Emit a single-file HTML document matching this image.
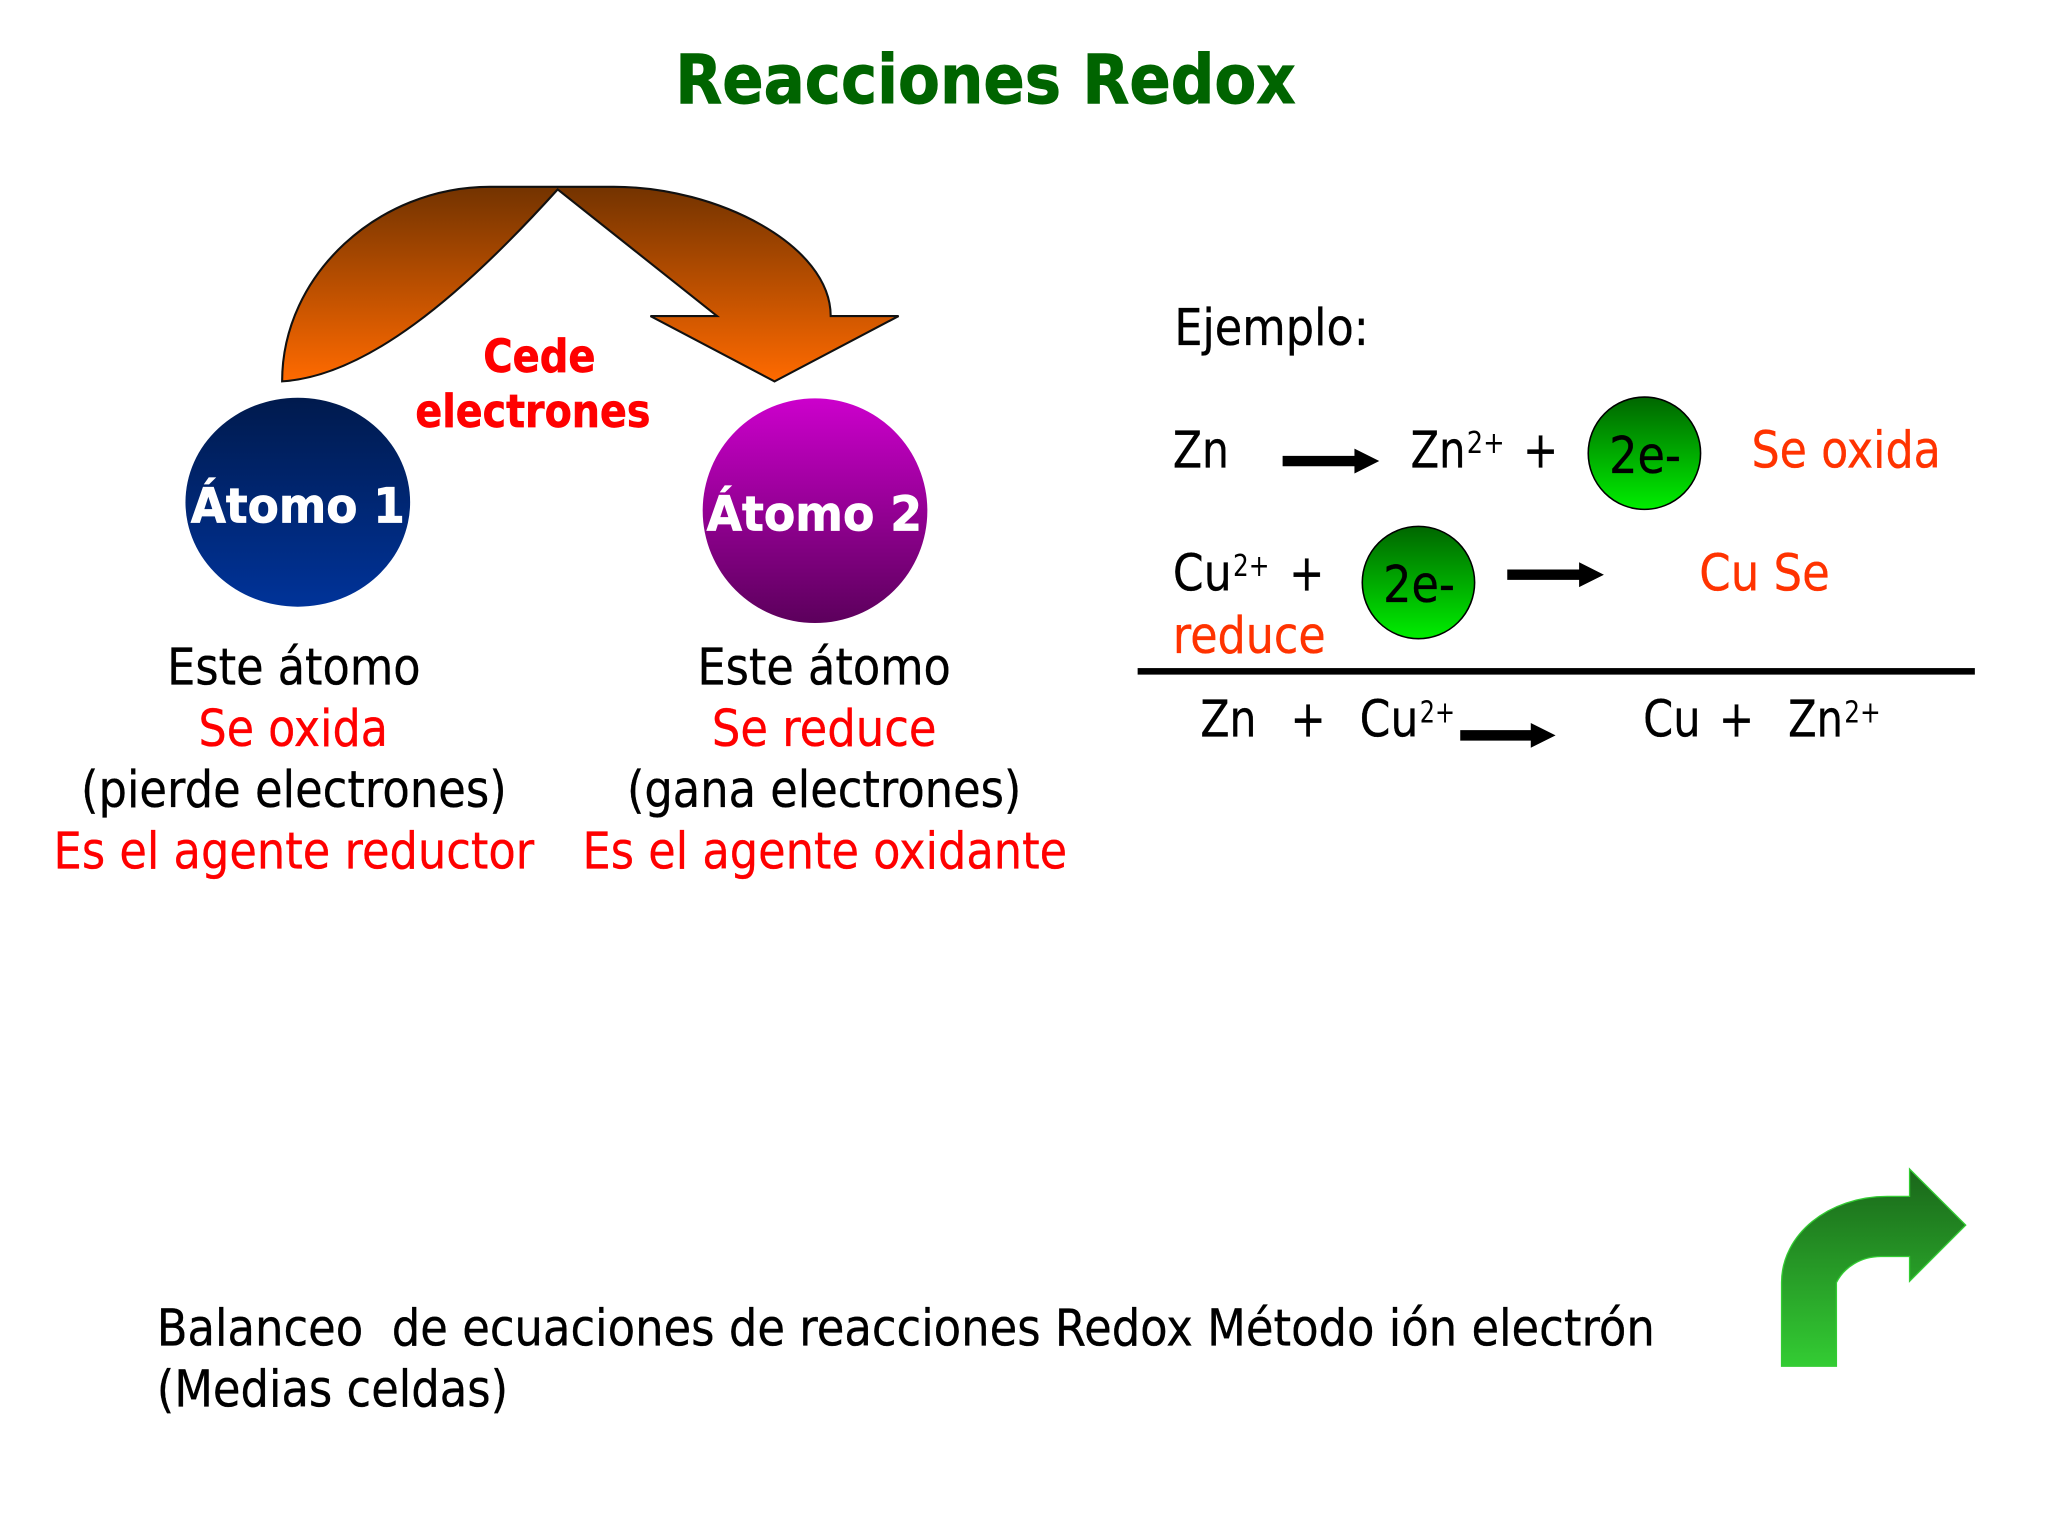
<!DOCTYPE html>
<html><head><meta charset="utf-8"><style>
html,body{margin:0;padding:0;background:#fff}
svg{display:block}
text{font-family:"DejaVu Sans","Liberation Sans",sans-serif}
.b{font-weight:bold}
.k{font-size:39px;fill:#000;stroke:#000;stroke-width:.25px}
.r{font-size:39px;fill:#f00;stroke:#f00;stroke-width:.25px}
.o{font-size:39px;fill:#f30;stroke:#f30;stroke-width:.25px}
.s{font-size:23px;fill:#000}
</style></head><body>
<svg width="2048" height="1536" viewBox="0 0 1568 1176" preserveAspectRatio="none" xmlns="http://www.w3.org/2000/svg">
<defs>
<linearGradient id="ga" x1="0" y1="0" x2="0" y2="1"><stop offset="0" stop-color="#733300"/><stop offset="1" stop-color="#ff6a00"/></linearGradient>
<linearGradient id="g1" x1="0" y1="0" x2="0" y2="1"><stop offset="0" stop-color="#001a4d"/><stop offset="1" stop-color="#003399"/></linearGradient>
<linearGradient id="g2" x1="0" y1="0" x2="0" y2="1"><stop offset="0" stop-color="#cc00cc"/><stop offset="1" stop-color="#5c005c"/></linearGradient>
<linearGradient id="g3" x1="0" y1="0" x2="0" y2="1"><stop offset="0" stop-color="#006600"/><stop offset="1" stop-color="#00ee00"/></linearGradient>
<linearGradient id="g4" x1="0" y1="0" x2="0" y2="1"><stop offset="0" stop-color="#1a661a"/><stop offset="1" stop-color="#33cc33"/></linearGradient>
</defs>
<rect width="1568" height="1176" fill="#fff"/>

<text class="b" x="517" y="79" font-size="52" fill="#006400" stroke="#006400" stroke-width="0.7" textLength="475" lengthAdjust="spacingAndGlyphs">Reacciones Redox</text>

<path d="M216 292 C216 210 290 143 375 143 L470 143 C550 143 636 188 636 242 L688 242 L593 292 L498 242 L549 242 L427 145 C352 228 280 288 216 292 Z" fill="url(#ga)" stroke="#111" stroke-width="1.6"/>

<text class="b" x="370" y="285" font-size="35" fill="#f00" stroke="#f00" stroke-width="0.5" textLength="86" lengthAdjust="spacingAndGlyphs">Cede</text>
<text class="b" x="318" y="327" font-size="35" fill="#f00" stroke="#f00" stroke-width="0.5" textLength="180" lengthAdjust="spacingAndGlyphs">electrones</text>

<ellipse cx="228" cy="384.500" rx="86" ry="80" fill="url(#g1)"/>
<ellipse cx="624" cy="391" rx="86" ry="86" fill="url(#g2)"/>
<text class="b" x="146" y="400" font-size="37" fill="#fff" stroke="#fff" stroke-width="0.6" textLength="164" lengthAdjust="spacingAndGlyphs">Átomo 1</text>
<text class="b" x="541" y="406" font-size="37" fill="#fff" stroke="#fff" stroke-width="0.6" textLength="165" lengthAdjust="spacingAndGlyphs">Átomo 2</text>

<text class="k" x="128" y="524" textLength="194" lengthAdjust="spacingAndGlyphs">Este átomo</text>
<text class="r" x="152" y="571" textLength="145" lengthAdjust="spacingAndGlyphs">Se oxida</text>
<text class="k" x="62" y="618" textLength="326" lengthAdjust="spacingAndGlyphs">(pierde electrones)</text>
<text class="r" x="41" y="665" textLength="368" lengthAdjust="spacingAndGlyphs">Es el agente reductor</text>

<text class="k" x="534" y="524" textLength="194" lengthAdjust="spacingAndGlyphs">Este átomo</text>
<text class="r" x="545" y="571" textLength="172" lengthAdjust="spacingAndGlyphs">Se reduce</text>
<text class="k" x="480" y="618" textLength="302" lengthAdjust="spacingAndGlyphs">(gana electrones)</text>
<text class="r" x="446" y="665" textLength="371" lengthAdjust="spacingAndGlyphs">Es el agente oxidante</text>

<text class="k" x="899" y="264" textLength="149" lengthAdjust="spacingAndGlyphs">Ejemplo:</text>

<text class="k" x="898" y="358" textLength="43" lengthAdjust="spacingAndGlyphs">Zn</text>
<path d="M982 349 H1037 V343.500 L1056 353 L1037 362.500 V357 H982 Z" fill="#000"/>
<text class="k" x="1080" y="358" textLength="42" lengthAdjust="spacingAndGlyphs">Zn</text>
<text class="s" x="1123" y="347" textLength="29" lengthAdjust="spacingAndGlyphs">2+</text>
<text class="k" x="1166" y="358" textLength="27" lengthAdjust="spacingAndGlyphs">+</text>
<ellipse cx="1259" cy="347" rx="43" ry="43" fill="url(#g3)" stroke="#000" stroke-width="1.2"/>
<text class="k" x="1232" y="362" textLength="55" lengthAdjust="spacingAndGlyphs">2e-</text>
<text class="o" x="1341" y="358" textLength="145" lengthAdjust="spacingAndGlyphs">Se oxida</text>

<text class="k" x="898" y="452" textLength="45" lengthAdjust="spacingAndGlyphs">Cu</text>
<text class="s" x="944" y="441" textLength="28" lengthAdjust="spacingAndGlyphs">2+</text>
<text class="k" x="987" y="452" textLength="27" lengthAdjust="spacingAndGlyphs">+</text>
<ellipse cx="1086" cy="446" rx="43" ry="43" fill="url(#g3)" stroke="#000" stroke-width="1.2"/>
<text class="k" x="1059" y="461" textLength="55" lengthAdjust="spacingAndGlyphs">2e-</text>
<path d="M1154 436 H1209 V430.500 L1228 440 L1209 449.500 V444 H1154 Z" fill="#000"/>
<text class="o" x="1301" y="452" textLength="100" lengthAdjust="spacingAndGlyphs">Cu Se</text>
<text class="o" x="898" y="500" textLength="117" lengthAdjust="spacingAndGlyphs">reduce</text>

<rect x="871" y="511.500" width="641" height="5" fill="#000"/>

<text class="k" x="919" y="564" textLength="43" lengthAdjust="spacingAndGlyphs">Zn</text>
<text class="k" x="988" y="564" textLength="27" lengthAdjust="spacingAndGlyphs">+</text>
<text class="k" x="1041" y="564" textLength="45" lengthAdjust="spacingAndGlyphs">Cu</text>
<text class="s" x="1087" y="553" textLength="27" lengthAdjust="spacingAndGlyphs">2+</text>
<path d="M1118 559 H1172 V553.500 L1191 563 L1172 572.500 V567 H1118 Z" fill="#000"/>
<text class="k" x="1258" y="564" textLength="44" lengthAdjust="spacingAndGlyphs">Cu</text>
<text class="k" x="1316" y="564" textLength="27" lengthAdjust="spacingAndGlyphs">+</text>
<text class="k" x="1369" y="564" textLength="42" lengthAdjust="spacingAndGlyphs">Zn</text>
<text class="s" x="1412" y="553" textLength="28" lengthAdjust="spacingAndGlyphs">2+</text>

<path d="M1364 1046 H1406 V982 C1412 970 1425 962 1440 962 H1462 V981 L1505 938 L1462 895 V916 H1445 C1400 916 1364 945 1364 982 Z" fill="url(#g4)" stroke="#33cc33" stroke-width="1"/>

<text class="k" x="120" y="1030" textLength="1147" lengthAdjust="spacingAndGlyphs" xml:space="preserve">Balanceo  de ecuaciones de reacciones Redox Método ión electrón</text>
<text class="k" x="120" y="1077" textLength="269" lengthAdjust="spacingAndGlyphs">(Medias celdas)</text>
</svg>
</body></html>
